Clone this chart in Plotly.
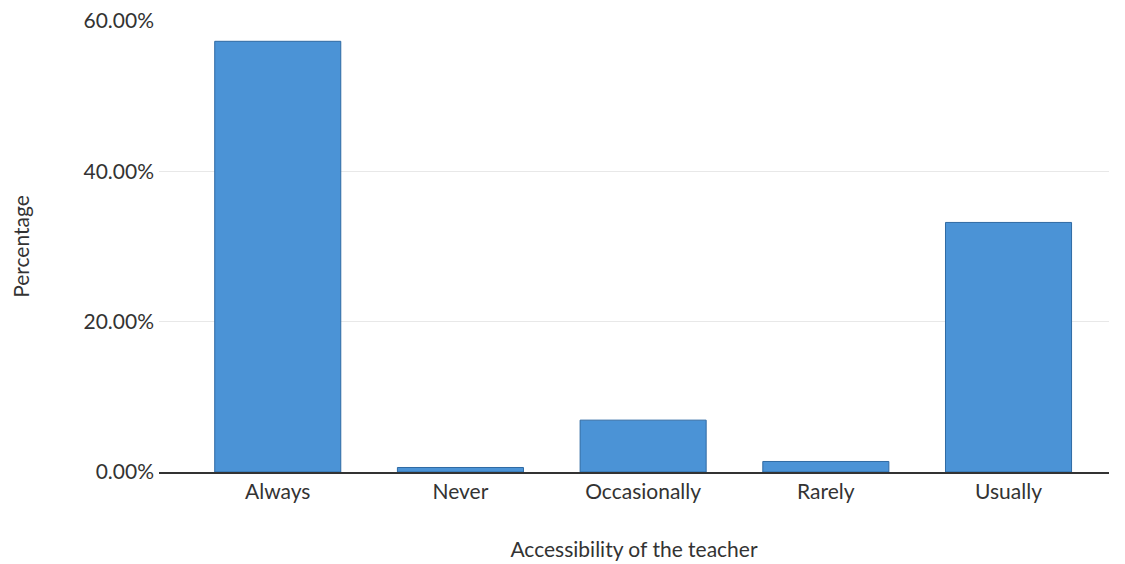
import plotly.graph_objects as go

categories = ["Always", "Never", "Occasionally", "Rarely", "Usually"]
percentages = [0.573, 0.006, 0.069, 0.014, 0.332]
y_ticks = [0, 0.2, 0.4, 0.6]

font_family = "Lato, Open Sans, sans-serif"
text_color = "#333333"

fig = go.Figure(
    go.Bar(
        x=categories,
        y=percentages,
        marker=dict(color="#4b93d6", line=dict(color="#2f6aa3", width=1)),
        width=0.69,
    )
)

fig.update_layout(
    width=1125,
    height=564,
    margin=dict(l=151, r=24, t=13, b=100),
    paper_bgcolor="white",
    plot_bgcolor="white",
    showlegend=False,
    font=dict(family=font_family, size=21, color=text_color),
)

fig.update_xaxes(
    range=[-0.65, 4.55],
    automargin="bottom",
    showgrid=False,
    showline=True,
    linecolor="#333333",
    linewidth=2,
    ticks="",
    tickfont=dict(size=21, color=text_color),
    title=dict(text="Accessibility of the teacher", font=dict(size=21, color=text_color), standoff=40),
)

fig.update_yaxes(
    range=[0, 0.6],
    automargin="left",
    tickvals=y_ticks,
    tickformat=".2%",
    showgrid=True,
    gridcolor="#e8e8e8",
    gridwidth=1,
    zeroline=False,
    showline=False,
    ticks="",
    ticklabelstandoff=4,
    ticklabeloverflow="allow",
    tickfont=dict(size=21, color=text_color),
    title=dict(text="Percentage", font=dict(size=21, color=text_color), standoff=50),
)

fig.write_html("out.html")
